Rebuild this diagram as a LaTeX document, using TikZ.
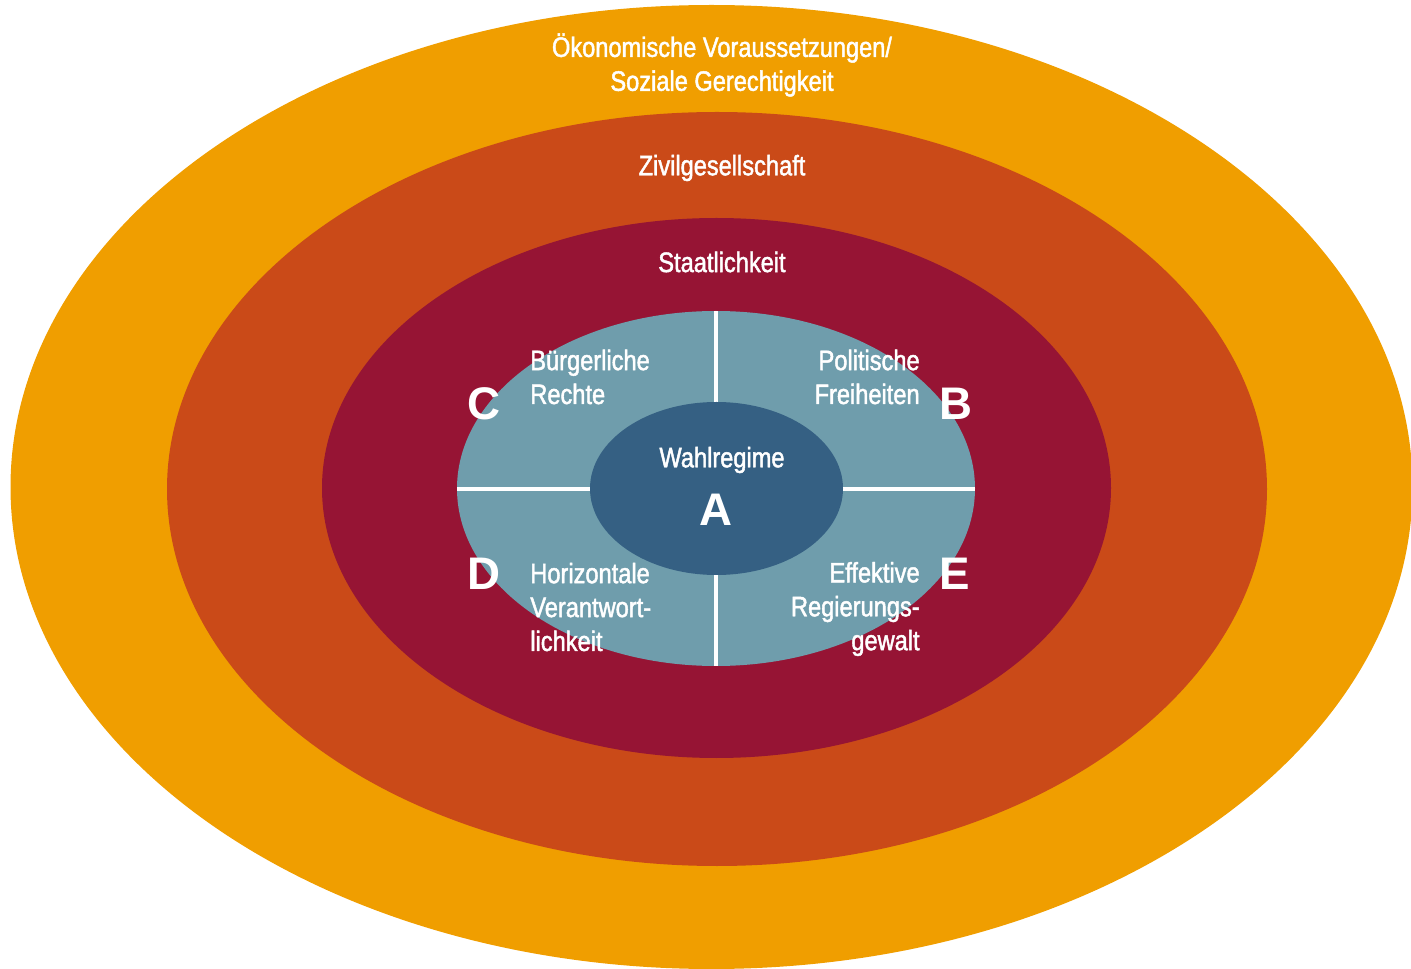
\documentclass[tikz,border=0pt]{standalone}
\usepackage{fontspec}
\setmainfont{Liberation Sans}
\newfontfamily\narrowfont{Liberation Sans}[FakeStretch=0.84, FakeBold=1.6]
\definecolor{ringorange}{RGB}{240,158,0}
\definecolor{ringrust}{RGB}{202,74,24}
\definecolor{ringwine}{RGB}{150,20,52}
\definecolor{ringsteel}{RGB}{111,157,172}
\definecolor{coreblue}{RGB}{53,96,131}

\begin{document}
\begin{tikzpicture}[x=0.02cm, y=-0.02cm,
  lbl/.style={text=white, inner sep=0pt, font=\narrowfont\fontsize{16}{19.3}\selectfont},
  letter/.style={text=white, inner sep=0pt, font=\fontsize{26}{30}\selectfont\bfseries},
  divider/.style={white, line width=2.4pt}]
\useasboundingbox (0,0) rectangle (1411,969);
\clip (0,0) rectangle (1411,969);
\fill[ringorange] (711.5,487) ellipse [x radius=701, y radius=482];
\fill[ringrust] (717,489) ellipse [x radius=550, y radius=377];
\fill[ringwine] (716.5,488) ellipse [x radius=394.5, y radius=270];
\fill[ringsteel] (716,488.5) ellipse [x radius=259, y radius=177.5];
\coordinate (ring top) at (716,311);
\coordinate (ring bottom) at (716,666);
\coordinate (ring left) at (457,489);
\coordinate (ring right) at (975,489);
\draw[divider] (ring top) -- (ring bottom);
\draw[divider] (ring left) -- (ring right);
\fill[coreblue] (716.5,488.5) ellipse [x radius=126.5, y radius=86.5];
\node[lbl, align=center] (econ) at (722,65) {Ökonomische Voraussetzungen/\\Soziale Gerechtigkeit};
\node[lbl] (civil) at (722,168) {Zivilgesellschaft};
\node[lbl] (state) at (722,262) {Staatlichkeit};
\node[lbl, align=left, anchor=west] (rights) at (530,377) {Bürgerliche\\Rechte};
\node[lbl, align=right, anchor=east] (freedoms) at (920,377) {Politische\\Freiheiten};
\node[lbl, align=left, anchor=west] (account) at (530,607) {Horizontale\\Verantwort-\\lichkeit};
\node[lbl, align=right, anchor=east] (govern) at (920,609) {Effektive\\Regierungs-\\gewalt};
\node[lbl] (elect) at (722,460) {Wahlregime};
\node[letter] (A) at (716,510) {A};
\node[letter] (B) at (956,404) {B};
\node[letter] (C) at (484,404) {C};
\node[letter] (D) at (484,574) {D};
\node[letter] (E) at (955,574) {E};
\end{tikzpicture}
\end{document}
